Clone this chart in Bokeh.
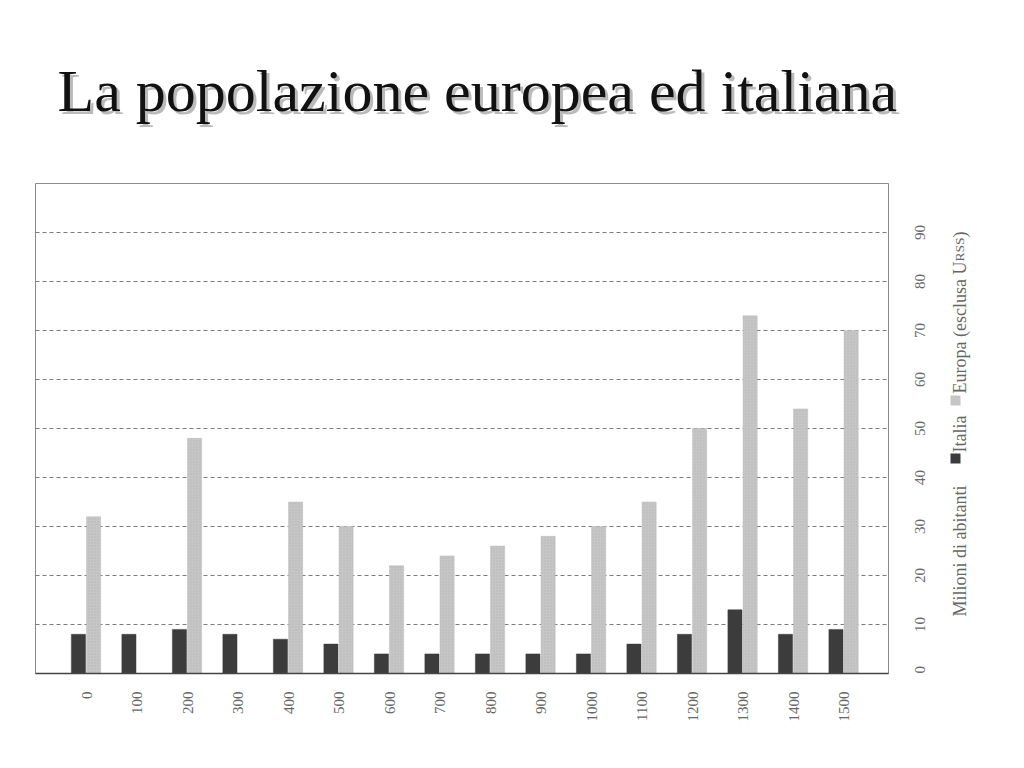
import math
from bokeh.plotting import figure
from bokeh.layouts import column, row
from bokeh.models import Range1d, FixedTicker, ColumnDataSource
from bokeh.core.properties import value
from bokeh.embed import file_html
from bokeh.resources import INLINE

years = ["0", "100", "200", "300", "400", "500", "600", "700", "800", "900",
         "1000", "1100", "1200", "1300", "1400", "1500"]
italia = [8, 8, 9, 8, 7, 6, 4, 4, 4, 4, 4, 6, 8, 13, 8, 9]
europa = [32, None, 48, None, 35, 30, 22, 24, 26, 28, 30, 35, 50, 73, 54, 70]
y_ticks = [0, 10, 20, 30, 40, 50, 60, 70, 80, 90]

title_text = "La popolazione europea ed italiana"
axis_text = "Milioni di abitanti"
leg_italia = "Italia"
leg_europa_parts = ["Europa (esclusa U", "RSS", ")"]   # "URSS" in small caps

SERIF = "Liberation Serif"
C_ITA = "#3c3c3c"
C_EUR = "#c6c6c6"

# ---------------- title strip ----------------
TW, TH = 1000, 175
t = figure(width=TW, height=TH, output_backend="svg", toolbar_location=None,
           x_range=Range1d(0, TW), y_range=Range1d(0, TH),
           x_axis_type=None, y_axis_type=None, min_border=0)
t.outline_line_color = None
t.grid.grid_line_color = None
t.text(x=[60], y=[82], text=[title_text], text_font=value(SERIF),
       text_font_size="60px", text_color="#8c8c8c", text_alpha=0.6,
       text_baseline="alphabetic", text_align="left")
t.text(x=[57], y=[85], text=[title_text], text_font=value(SERIF),
       text_font_size="60px", text_color="#111111",
       text_baseline="alphabetic", text_align="left")

# ---------------- main chart ----------------
MW, MH = 940, 565
BT, BB = 8, 67
PX_PER_UNIT = 4.9
p = figure(width=MW, height=MH, output_backend="svg", toolbar_location=None,
           x_range=Range1d(-1.01, 15.88), y_range=Range1d(0, 100),
           y_axis_location="right",
           min_border_left=35, min_border_right=52,
           min_border_top=BT, min_border_bottom=BB)
p.outline_line_color = "#8a8a8a"
p.outline_line_width = 1

idx = list(range(len(years)))
src_i = ColumnDataSource(dict(x=[i - 0.16 for i in idx], top=italia))
ex = [i + 0.14 for i, v in zip(idx, europa) if v is not None]
ev = [v for v in europa if v is not None]
src_e = ColumnDataSource(dict(x=ex, top=ev))

p.vbar(x="x", top="top", bottom=0, width=0.28, source=src_i,
       fill_color=C_ITA, line_color=C_ITA, line_width=0.5)
p.vbar(x="x", top="top", bottom=0, width=0.28, source=src_e,
       fill_color=C_EUR, line_color="#bdbdbd", line_width=0.5,
       hatch_pattern="dot", hatch_color="#a8a8a8", hatch_scale=3, hatch_alpha=0.5)

xa = p.xaxis[0]
xa.ticker = FixedTicker(ticks=idx)
xa.major_label_overrides = {i: y for i, y in zip(idx, years)}
xa.major_label_orientation = math.pi / 2
xa.major_label_text_font = SERIF
xa.major_label_text_font_size = "15px"
xa.major_label_text_color = "#666666"
xa.major_label_standoff = 12
xa.major_tick_line_color = None
xa.minor_tick_line_color = None
xa.axis_line_color = "#444444"
xa.axis_line_width = 1.5

# right-hand numeric axis: labels read bottom-to-top; bokeh starts each label
# at its tick, so shift the tick by half a label to centre it (0 stays at 0)
ya = p.yaxis[0]
half = [0 if v == 0 else len(str(v)) * 7.5 / 2 / PX_PER_UNIT for v in y_ticks]
ypos = [v - h for v, h in zip(y_ticks, half)]
ya.ticker = FixedTicker(ticks=ypos)
ya.major_label_overrides = {pos: str(v) for pos, v in zip(ypos, y_ticks)}
ya.major_label_orientation = math.pi / 2
ya.major_label_text_font = SERIF
ya.major_label_text_font_size = "15px"
ya.major_label_text_color = "#6a6a6a"
ya.major_label_standoff = 25
ya.major_tick_line_color = None
ya.minor_tick_line_color = None
ya.axis_line_color = None

p.xgrid.grid_line_color = None
p.ygrid.ticker = FixedTicker(ticks=y_ticks[1:])
p.ygrid.grid_line_color = "#7a7a7a"
p.ygrid.grid_line_dash = "4 3"
p.ygrid.grid_line_width = 1

# ---------------- rotated caption / legend strip ----------------
# its frame lines up with the chart frame: y units are pixels above the x axis
LW = 60
FH = MH - BT - BB
lg = figure(width=LW, height=MH, output_backend="svg", toolbar_location=None,
            x_range=Range1d(0, LW), y_range=Range1d(0, FH),
            x_axis_type=None, y_axis_type=None,
            min_border_left=0, min_border_right=0,
            min_border_top=BT, min_border_bottom=BB)
lg.outline_line_color = None
lg.grid.grid_line_color = None
BX = 19      # text baseline (letters extend to the left of it)
SX = 15      # centre of the legend squares
common = dict(angle=math.pi / 2, text_font=value(SERIF), text_color="#666666",
              text_baseline="alphabetic", text_align="left")
lg.text(x=[BX, BX], y=[57, 221], text=[axis_text, leg_italia],
        text_font_size="18px", **common)
# "Europa (esclusa URSS)" with URSS in small caps
lg.text(x=[BX], y=[280], text=[leg_europa_parts[0]], text_font_size="18px", **common)
lg.text(x=[BX], y=[412], text=[leg_europa_parts[1]], text_font_size="13.5px", **common)
lg.text(x=[BX], y=[436], text=[leg_europa_parts[2]], text_font_size="18px", **common)
lg.rect(x=[SX, SX], y=[215, 273], width=10, height=10,
        fill_color=[C_ITA, C_EUR], line_color=None)

layout = column(t, row(p, lg))
open("out.html", "w").write(file_html(layout, INLINE))
